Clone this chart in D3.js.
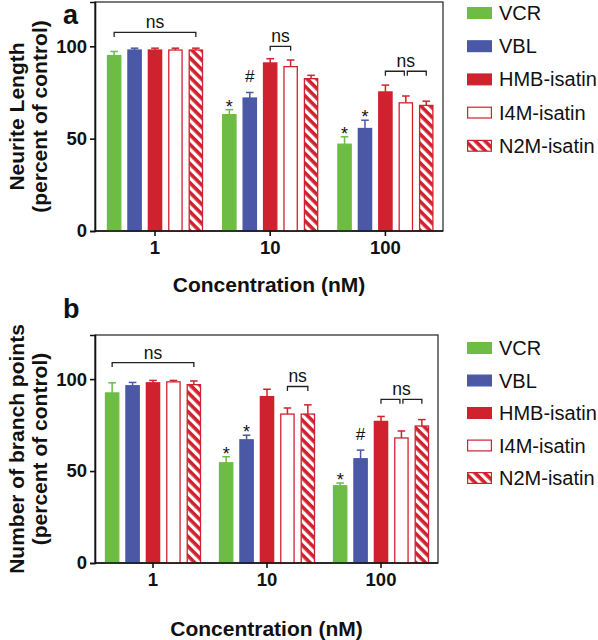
<!DOCTYPE html>
<html>
<head>
<meta charset="utf-8">
<script src="https://cdn.jsdelivr.net/npm/d3@7"></script>
<style>
  html, body { margin: 0; padding: 0; background: #fff; }
  svg { display: block; font-family: "Liberation Sans", Arial, Helvetica, sans-serif; }
</style>
</head>
<body>
<svg id="chart" width="598" height="640"></svg>
<script>
// ---------------- DATA ----------------
const concentrations = ["1", "10", "100"];
const seriesNames = ["VCR", "VBL", "HMB-isatin", "I4M-isatin", "N2M-isatin"];
const yTicks = [0, 50, 100];

// Panel a: neurite length (rows: concentration, columns: series)
const neuriteMeans  = [[95, 98, 98, 98, 98], [63, 72, 91, 89, 82.5], [47, 55.5, 75.3, 69.4, 68]];
const neuriteErrors = [[2.2, 1, 1, 1, 1], [2.7, 3, 2.3, 3.6, 1.8], [4, 4.5, 3.7, 3.7, 2.3]];
const neuriteMarks = [["10", "VCR", "*"], ["10", "VBL", "#"], ["100", "VCR", "*"], ["100", "VBL", "*"]];
const neuriteBrackets = [["1", "VCR", "N2M-isatin", 107.5], ["10", "HMB-isatin", "I4M-isatin", 100],
                         ["100", "HMB-isatin", "I4M-isatin", 86.5], ["100", "I4M-isatin", "N2M-isatin", 86.5]];

// Panel b: number of branch points
const branchMeans  = [[92.5, 96.4, 98, 98.5, 97], [54.5, 67, 90.5, 81, 81], [42, 56.7, 77, 68, 74.5]];
const branchErrors = [[5.5, 1.8, 1.3, 0.8, 2], [3.3, 2.5, 4, 3.3, 5], [1.5, 4.7, 2.7, 3.8, 3.5]];
const branchMarks = [["10", "VCR", "*"], ["10", "VBL", "*"], ["100", "VCR", "*"], ["100", "VBL", "#"]];
const branchBrackets = [["1", "VCR", "N2M-isatin", 109], ["10", "I4M-isatin", "N2M-isatin", 96],
                        ["100", "HMB-isatin", "I4M-isatin", 89], ["100", "I4M-isatin", "N2M-isatin", 89]];

// ---------------- STYLE ----------------
const GREEN = "#6dbd45", BLUE = "#4a58a6", RED = "#d0222e";
const styleOf = {
  "VCR":        { fill: GREEN, stroke: GREEN, err: GREEN },
  "VBL":        { fill: BLUE,  stroke: BLUE,  err: BLUE },
  "HMB-isatin": { fill: RED,   stroke: RED,   err: RED },
  "I4M-isatin": { fill: "#fff", stroke: RED,  err: RED },
  "N2M-isatin": { fill: "url(#stripes)", stroke: RED, err: RED }
};

const svg = d3.select("#chart");
const defs = svg.append("defs");
const pat = defs.append("pattern")
  .attr("id", "stripes").attr("patternUnits", "userSpaceOnUse")
  .attr("width", 6.8).attr("height", 6.8)
  .attr("patternTransform", "rotate(-45)");
pat.append("rect").attr("width", 6.8).attr("height", 6.8).attr("fill", RED);
pat.append("rect").attr("x", 0).attr("width", 3.2).attr("height", 6.8).attr("fill", "#fff");

function drawPanel(cfg) {
  const g = svg.append("g");
  const x = d3.scaleBand().domain(concentrations).range([cfg.bandL, cfg.right]).padding(0);
  const xi = d3.scaleBand().domain(seriesNames).range([-48, 48]).paddingInner(0.3).paddingOuter(0);
  const y = d3.scaleLinear().domain([0, 124]).range([cfg.bottom, cfg.top]);
  const cx = (c, s) => x(c) + x.bandwidth() / 2 + xi(s) + xi.bandwidth() / 2;

  // frame
  g.append("rect").attr("x", cfg.left).attr("y", cfg.top)
    .attr("width", cfg.right - cfg.left).attr("height", cfg.bottom - cfg.top)
    .attr("fill", "none").attr("stroke", "#222").attr("stroke-width", 1.2);

  // bars
  const rows = [];
  concentrations.forEach((c, ci) => seriesNames.forEach((s, si) => {
    rows.push({ c, s, m: cfg.means[ci][si], e: cfg.errors[ci][si] });
  }));
  const bw = xi.bandwidth();
  g.selectAll("rect.bar").data(rows).enter().append("rect")
    .attr("class", "bar")
    .attr("x", d => cx(d.c, d.s) - bw / 2 + 0.5)
    .attr("width", bw - 1)
    .attr("y", d => y(d.m))
    .attr("height", d => y(0) - y(d.m))
    .attr("fill", d => styleOf[d.s].fill)
    .attr("stroke", d => styleOf[d.s].stroke)
    .attr("stroke-width", 1.3);

  // error bars (upper)
  g.selectAll("line.err").data(rows).enter().append("line")
    .attr("x1", d => cx(d.c, d.s)).attr("x2", d => cx(d.c, d.s))
    .attr("y1", d => y(d.m)).attr("y2", d => y(d.m + d.e))
    .attr("stroke", d => styleOf[d.s].err).attr("stroke-width", 1.5);
  g.selectAll("line.cap").data(rows).enter().append("line")
    .attr("x1", d => cx(d.c, d.s) - 3.8).attr("x2", d => cx(d.c, d.s) + 3.8)
    .attr("y1", d => y(d.m + d.e)).attr("y2", d => y(d.m + d.e))
    .attr("stroke", d => styleOf[d.s].err).attr("stroke-width", 1.5);

  // axes
  const yAxis = d3.axisLeft(y).tickValues(yTicks).tickSize(5).tickPadding(3);
  const ya = g.append("g").attr("transform", `translate(${cfg.left},0)`).call(yAxis);
  ya.select(".domain").attr("stroke", "#111").attr("stroke-width", 1.6);
  ya.selectAll(".tick line").attr("stroke", "#111").attr("stroke-width", 1.6);
  ya.selectAll(".tick text").attr("font-size", 18.5).attr("font-weight", "bold").attr("fill", "#111")
    .attr("font-family", "Liberation Sans, Arial, sans-serif");

  const xAxis = d3.axisBottom(x).tickSize(5).tickPadding(5);
  const xa = g.append("g").attr("transform", `translate(0,${cfg.bottom})`).call(xAxis);
  xa.select(".domain").attr("d", `M${cfg.left},0H${cfg.right}`).attr("stroke", "#111").attr("stroke-width", 1.6);
  xa.selectAll(".tick line").attr("stroke", "#111").attr("stroke-width", 1.6);
  xa.selectAll(".tick text").attr("font-size", 18.5).attr("font-weight", "bold").attr("fill", "#111")
    .attr("font-family", "Liberation Sans, Arial, sans-serif");

  // significance marks
  const rowOf = (c, s) => rows.find(r => r.c === c && r.s === s);
  cfg.marks.forEach(([c, s, sym]) => {
    const r = rowOf(c, s);
    const top = y(r.m + r.e);
    g.append("text").attr("x", cx(c, s)).attr("y", sym === "#" ? top - 10 : top + 3)
      .attr("text-anchor", "middle").attr("font-size", sym === "*" ? 18 : 17).attr("fill", "#111")
      .text(sym);
  });

  // brackets
  const byCat = d3.group(cfg.brackets, d => d[0]);
  byCat.forEach((list) => {
    let minX = Infinity, maxX = -Infinity, lvl = 0;
    list.forEach(([cc, s1, s2, v], i) => {
      const x1 = cx(cc, s1) + (i > 0 ? 1.5 : 0);
      const x2 = cx(cc, s2) - (i < list.length - 1 ? 1.5 : 0);
      const yy = y(v);
      g.append("path").attr("d", `M${x1},${yy + 4.5}V${yy}H${x2}V${yy + 4.5}`)
        .attr("fill", "none").attr("stroke", "#222").attr("stroke-width", 1.3);
      minX = Math.min(minX, x1); maxX = Math.max(maxX, x2); lvl = yy;
    });
    g.append("text").attr("x", (minX + maxX) / 2).attr("y", lvl - 4)
      .attr("text-anchor", "middle").attr("font-size", 17.5).attr("fill", "#111").text("ns");
  });

  // y title
  const yc = (cfg.top + cfg.bottom) / 2;
  const yt = g.append("text").attr("transform", `translate(${cfg.titleX},${yc}) rotate(-90)`)
    .attr("text-anchor", "middle").attr("font-size", 21).attr("font-weight", "bold").attr("fill", "#111");
  yt.append("tspan").attr("x", 0).attr("y", 0).text(cfg.yTitle1);
  yt.append("tspan").attr("x", 0).attr("y", 23).text("(percent of control)");

  // x title
  g.append("text").attr("x", (cfg.left + cfg.right) / 2).attr("y", cfg.xTitleY)
    .attr("text-anchor", "middle").attr("font-size", 21).attr("font-weight", "bold").attr("fill", "#111")
    .text("Concentration (nM)");

  // panel letter
  g.append("text").attr("x", 63).attr("y", cfg.letterY).attr("font-size", 27).attr("font-weight", "bold")
    .attr("fill", "#111").text(cfg.letter);

  // legend
  const lg = g.append("g").attr("transform", `translate(467,${cfg.legendTop})`);
  const li = lg.selectAll("g").data(seriesNames).enter().append("g")
    .attr("transform", (d, i) => `translate(0,${i * cfg.legendStep})`);
  li.append("rect").attr("x", 0.6).attr("y", 0.6).attr("width", 23.8).attr("height", 10.8)
    .attr("fill", d => styleOf[d].fill).attr("stroke", d => styleOf[d].stroke).attr("stroke-width", 1.2);
  li.append("text").attr("x", 32).attr("y", 13).attr("font-size", 20).attr("fill", "#111").text(d => d);
}

drawPanel({
  left: 95, bandL: 97.4, right: 443, top: 2, bottom: 231,
  means: neuriteMeans, errors: neuriteErrors, marks: neuriteMarks, brackets: neuriteBrackets,
  yTitle1: "Neurite Length", titleX: 24, xTitleY: 292, letter: "a", letterY: 24,
  legendTop: 7, legendStep: 33.2
});
drawPanel({
  left: 95, bandL: 96, right: 438, top: 335, bottom: 563,
  means: branchMeans, errors: branchErrors, marks: branchMarks, brackets: branchBrackets,
  yTitle1: "Number of branch points", titleX: 24, xTitleY: 636, letter: "b", letterY: 318,
  legendTop: 342, legendStep: 32.5
});
</script>
</body>
</html>
